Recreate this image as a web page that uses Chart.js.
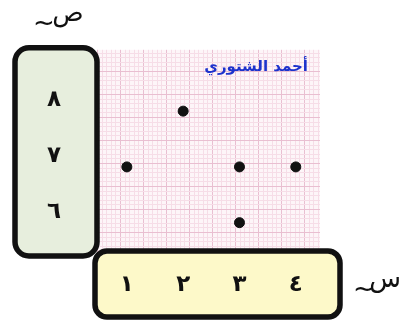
<!DOCTYPE html>
<html>
<head>
<meta charset="utf-8">
<script src="https://cdn.jsdelivr.net/npm/chart.js@4"></script>
<style>
  html, body { margin: 0; padding: 0; background: #ffffff; }
  #wrap { width: 407px; height: 328px; }
</style>
</head>
<body>
<div id="wrap"><canvas id="myChart" width="407" height="328"></canvas></div>
<script>
// data
const xValues = [1, 2, 3, 3, 4];
const yValues = [7, 8, 7, 6, 7];
const xTicks = [1, 2, 3, 4];
const xTickLabels = ['١', '٢', '٣', '٤'];
const yTicks = [6, 7, 8];
const yTickLabels = ['٦', '٧', '٨'];
const xAxisName = 'س';
const yAxisName = 'ص';
const authorName = 'أحمد الشتوري';

function roundBox(ctx, x, y, w, h, r, fill) {
    ctx.beginPath();
    ctx.roundRect(x, y, w, h, r);
    ctx.fillStyle = fill;
    ctx.fill();
    ctx.lineWidth = 5.5;
    ctx.strokeStyle = '#111';
    ctx.stroke();
}

// graph paper + label boxes
const worksheetPlugin = {
    id: 'worksheet',
    beforeDraw(chart) {
        const ctx = chart.ctx;
        const a = chart.chartArea;
        ctx.save();
        ctx.fillStyle = '#fdf5f8';
        ctx.fillRect(a.left, a.top, a.right - a.left, a.bottom - a.top);
        const step = 4.6;
        let i = 0;
        for (let x = a.left; x <= a.right; x += step, i++) {
            ctx.strokeStyle = (i % 5 === 0) ? '#e9bfd1' : '#f6dde7';
            ctx.lineWidth = 1;
            ctx.beginPath();
            ctx.moveTo(Math.round(x) + 0.5, a.top);
            ctx.lineTo(Math.round(x) + 0.5, a.bottom);
            ctx.stroke();
        }
        i = 0;
        for (let y = a.bottom; y >= a.top; y -= step, i++) {
            ctx.strokeStyle = (i % 5 === 0) ? '#e9bfd1' : '#f6dde7';
            ctx.beginPath();
            ctx.moveTo(a.left, Math.round(y) + 0.5);
            ctx.lineTo(a.right, Math.round(y) + 0.5);
            ctx.stroke();
        }
        const ys = chart.scales.y;
        const xs = chart.scales.x;
        roundBox(ctx, ys.left + 2, a.top - 2, ys.right - ys.left - 2, a.bottom - a.top + 3, 14, '#e7eedd');
        roundBox(ctx, xs.left - 2, xs.top - 4, xs.right - xs.left + 22, xs.bottom - xs.top + 1, 12, '#fdf9c9');

        // axis names and author
        ctx.fillStyle = '#111';
        ctx.font = '26px "DejaVu Sans"';
        ctx.textAlign = 'center';
        ctx.textBaseline = 'middle';
        ctx.fillText(yAxisName, 68, 14);
        ctx.fillText('~', 44, 24);
        ctx.fillText(xAxisName, 385, 280);
        ctx.fillText('~', 364, 290);
        ctx.fillStyle = '#1d33cc';
        ctx.font = 'bold 15px "DejaVu Sans"';
        ctx.textAlign = 'right';
        ctx.fillText(authorName, 308, 67);
        ctx.restore();
    }
};

const ctx = document.getElementById('myChart').getContext('2d');
const myChart = new Chart(ctx, {
    type: 'scatter',
    data: {
        datasets: [{
            data: xValues.map((x, i) => ({ x: x, y: yValues[i] })),
            backgroundColor: '#111',
            borderColor: '#111',
            pointRadius: 5,
            pointHoverRadius: 5
        }]
    },
    options: {
        responsive: false,
        animation: false,
        events: [],
        layout: { padding: { left: 13, top: 45, right: 87, bottom: 8 } },
        plugins: { legend: { display: false }, tooltip: { enabled: false } },
        scales: {
            x: {
                type: 'linear',
                min: 0.47,
                max: 4.43,
                afterBuildTicks: s => { s.ticks = xTicks.map(v => ({ value: v })); },
                afterFit: s => { s.height = 65; },
                border: { display: false },
                grid: { display: false, drawTicks: false },
                ticks: {
                    padding: 16,
                    color: '#111',
                    font: { family: 'DejaVu Sans', size: 23, weight: 'bold' },
                    callback: v => xTickLabels[xTicks.indexOf(v)]
                }
            },
            y: {
                type: 'linear',
                min: 5.42,
                max: 9.1,
                afterBuildTicks: s => { s.ticks = yTicks.map(v => ({ value: v })); },
                afterFit: s => { s.width = 84; },
                border: { display: false },
                grid: { display: false, drawTicks: false },
                ticks: {
                    crossAlign: 'center',
                    padding: 36,
                    labelOffset: -11,
                    color: '#111',
                    font: { family: 'DejaVu Sans', size: 23, weight: 'bold' },
                    callback: v => yTickLabels[yTicks.indexOf(v)]
                }
            }
        }
    },
    plugins: [worksheetPlugin]
});
</script>
</body>
</html>
